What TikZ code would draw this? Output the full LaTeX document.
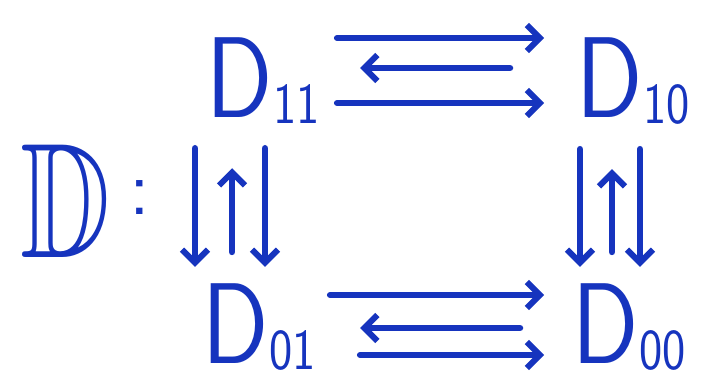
\documentclass[tikz,border=0pt]{standalone}
\usepackage{amssymb}
\usetikzlibrary{arrows.meta}
\definecolor{marker}{RGB}{22,52,190}

\begin{document}
\begin{tikzpicture}[
    x=1pt, y=1pt,
    font=\sffamily,
    obj/.style={anchor=base west, inner sep=0pt, xscale=0.85, text=marker},
    arr/.style={-{Straight Barb[length=13pt, width=26pt, line width=6pt]}},
    line width=6.5pt,
    line cap=round,
    draw=marker
]
    \useasboundingbox (0,0) rectangle (712,391);

    % Objects
    \node[obj] (D11) at (204,273) {\fontsize{115}{115}\selectfont D\raisebox{-6pt}{\fontsize{58}{58}\selectfont 11}};
    \node[obj] (D10) at (574,273) {\fontsize{115}{115}\selectfont D\raisebox{-6pt}{\fontsize{58}{58}\selectfont 10}};
    \node[obj] (D01) at (200,28) {\fontsize{115}{115}\selectfont D\raisebox{-6pt}{\fontsize{58}{58}\selectfont 01}};
    \node[obj] (D00) at (570,28) {\fontsize{115}{115}\selectfont D\raisebox{-6pt}{\fontsize{58}{58}\selectfont 00}};

    % Name of the diagram
    \node[anchor=base west, inner sep=0pt, xscale=0.76, text=marker] (name) at (18,133) {\fontsize{164}{164}\selectfont$\mathbb{D}$};
    \node[anchor=base west, inner sep=0pt, text=marker] (colon) at (126,176) {\fontsize{79}{79}\selectfont :};

    % Top row
    \draw[arr, shorten <=15pt, shorten >=30pt] ([yshift=80pt]D11.base east) -- ([yshift=80pt]D10.base west);
    \draw[arr, shorten <=64pt, shorten >=38pt] ([yshift=50pt]D10.base west) -- ([yshift=50pt]D11.base east);
    \draw[arr, shorten <=15pt, shorten >=30pt] ([yshift=15pt]D11.base east) -- ([yshift=15pt]D10.base west);

    % Bottom row
    \draw[arr, shorten <=12pt, shorten >=26pt] ([yshift=68pt]D01.base east) -- ([yshift=68pt]D00.base west);
    \draw[arr, shorten <=50pt, shorten >=42pt] ([yshift=35pt]D00.base west) -- ([yshift=35pt]D01.base east);
    \draw[arr, shorten <=42pt, shorten >=26pt] ([yshift=8pt]D01.base east) -- ([yshift=8pt]D00.base west);

    % Left column
    \draw[arr, shorten <=21pt, shorten >=13pt] ([xshift=-9pt]D11.south west) -- ([xshift=-9pt]D11.south west |- D01.north);
    \draw[arr, shorten <=28pt, shorten >=41pt] ([xshift=28pt]D11.south west |- D01.north) -- ([xshift=28pt]D11.south west);
    \draw[arr, shorten <=21pt, shorten >=13pt] ([xshift=61pt]D11.south west) -- ([xshift=61pt]D11.south west |- D01.north);

    % Right column
    \draw[arr, shorten <=21pt, shorten >=13pt] ([xshift=6pt]D10.south west) -- ([xshift=6pt]D10.south west |- D00.north);
    \draw[arr, shorten <=28pt, shorten >=41pt] ([xshift=38pt]D10.south west |- D00.north) -- ([xshift=38pt]D10.south west);
    \draw[arr, shorten <=21pt, shorten >=13pt] ([xshift=66pt]D10.south west) -- ([xshift=66pt]D10.south west |- D00.north);

\end{tikzpicture}
\end{document}
